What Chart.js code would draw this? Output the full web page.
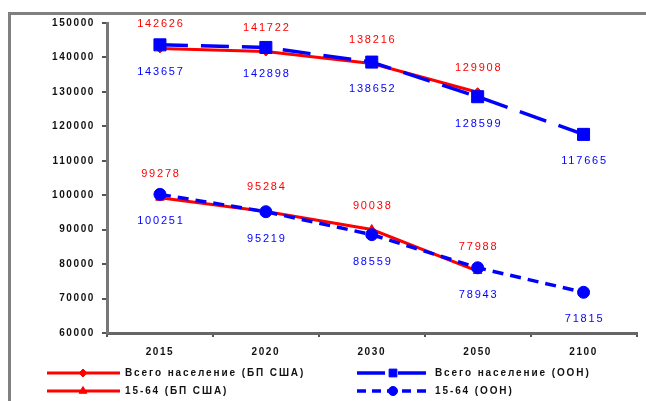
<!DOCTYPE html>
<html>
<head>
<meta charset="utf-8">
<script src="https://cdn.jsdelivr.net/npm/chart.js@4/dist/chart.umd.min.js"></script>
<style>
  html, body { margin: 0; padding: 0; background: #fff; overflow: hidden; }
  #wrap { width: 646px; height: 401px; position: relative; }
</style>
</head>
<body>
<div id="wrap"><canvas id="chart" width="646" height="401"></canvas></div>
<script>
// Population forecasts, thousands of people
const years = ['2015', '2020', '2030', '2050', '2100'];
const totalCensus = [142626, 141722, 138216, 129908, null];   // Всего население (БП США)
const totalUN     = [143657, 142898, 138652, 128599, 117665]; // Всего население (ООН)
const workCensus  = [99278, 95284, 90038, 77988, null];       // 15-64 (БП США)
const workUN      = [100251, 95219, 88559, 78943, 71815];     // 15-64 (ООН)
const yMin = 60000, yMax = 150000, yStep = 10000;

const RED = '#ff0000';
const BLUE = '#0000ff';
const FONT = '"Liberation Sans", Arial, sans-serif';

const datasets = [
  { label: 'Всего население (ООН)', data: totalUN, borderColor: BLUE, backgroundColor: BLUE,
    borderWidth: 3.5, borderDash: [28, 13], pointStyle: 'rect', pointRadius: 8.5,
    legendRadius: 5.5, legendDash: [28, 13], labelSide: 1, order: 0 },
  { label: '15-64 (ООН)', data: workUN, borderColor: BLUE, backgroundColor: BLUE,
    borderWidth: 3.5, borderDash: [11, 7], pointStyle: 'circle', pointRadius: 6,
    legendRadius: 4.5, legendDash: [9, 6], labelSide: 1, order: 0 },
  { label: 'Всего население (БП США)', data: totalCensus, borderColor: RED, backgroundColor: RED,
    borderWidth: 3, borderDash: [], pointStyle: 'rectRot', pointRadius: 4.5,
    legendRadius: 4, legendDash: [], labelSide: -1, order: 1 },
  { label: '15-64 (БП США)', data: workCensus, borderColor: RED, backgroundColor: RED,
    borderWidth: 3, borderDash: [], pointStyle: 'triangle', pointRadius: 5,
    legendRadius: 4.5, legendDash: [], labelSide: -1, order: 1 }
];
datasets.forEach(d => { d.tension = 0; d.fill = false; d.pointBorderWidth = 1; d.spanGaps = false; });

// Grey frame around the whole figure
const framePlugin = {
  id: 'frame',
  beforeDraw(chart) {
    const ctx = chart.ctx;
    ctx.save();
    ctx.fillStyle = '#fff';
    ctx.fillRect(0, 0, chart.width, chart.height);
    ctx.strokeStyle = '#808080';
    ctx.lineWidth = 3;
    ctx.strokeRect(9.5, 13.5, 800, 600);
    ctx.restore();
    ctx.letterSpacing = '1.6px';
  }
};

// Value labels: red above the point, blue below
const valueLabels = {
  id: 'valueLabels',
  afterDatasetsDraw(chart) {
    const ctx = chart.ctx;
    ctx.save();
    ctx.font = '11px ' + FONT;
    ctx.letterSpacing = '1.8px';
    ctx.textAlign = 'center';
    ctx.textBaseline = 'middle';
    chart.data.datasets.forEach((ds, i) => {
      const meta = chart.getDatasetMeta(i);
      meta.data.forEach((pt, j) => {
        const v = ds.data[j];
        if (v === null || v === undefined) return;
        ctx.fillStyle = ds.borderColor;
        const dy = ds.labelSide < 0 ? -24 : 27;
        ctx.fillText(String(v), pt.x + 1, pt.y + dy);
      });
    });
    ctx.restore();
  }
};

// Two-column legend under the axis: line sample with marker, then the name
const bottomLegend = {
  id: 'bottomLegend',
  afterDraw(chart) {
    const ctx = chart.ctx;
    const slots = { 2: [47, 373], 3: [47, 391], 0: [357, 373], 1: [357, 391] };
    chart.data.datasets.forEach((ds, i) => {
      const [x, y] = slots[i];
      ctx.save();
      ctx.strokeStyle = ds.borderColor;
      ctx.fillStyle = ds.borderColor;
      ctx.lineWidth = ds.borderWidth;
      ctx.setLineDash(ds.legendDash);
      ctx.beginPath();
      ctx.moveTo(x, y);
      ctx.lineTo(x + 73, y);
      ctx.stroke();
      ctx.setLineDash([]);
      ctx.lineWidth = 1;
      Chart.helpers.drawPoint(ctx, { pointStyle: ds.pointStyle, radius: ds.legendRadius, rotation: 0, borderWidth: 1 }, x + 36, y);
      ctx.font = 'bold 10px ' + FONT;
      ctx.letterSpacing = '1.9px';
      ctx.fillStyle = '#111';
      ctx.textAlign = 'left';
      ctx.textBaseline = 'middle';
      ctx.fillText(ds.label, x + 78, y + 0.5);
      ctx.restore();
    });
  }
};

new Chart(document.getElementById('chart'), {
  type: 'line',
  data: { labels: years, datasets },
  plugins: [framePlugin, valueLabels, bottomLegend],
  options: {
    responsive: false,
    animation: false,
    devicePixelRatio: 1,
    layout: { padding: { top: 23, left: 0, right: 0, bottom: 0 } },
    plugins: { legend: { display: false }, tooltip: { enabled: false } },
    scales: {
      x: {
        type: 'category',
        offset: true,
        grid: { offset: true, drawOnChartArea: false, drawTicks: true, tickLength: 4, color: '#555', lineWidth: 2 },
        border: { display: true, color: '#666', width: 3 },
        ticks: { color: '#111', padding: 9, font: { family: FONT, size: 10, weight: 'bold' }, maxRotation: 0 },
        afterFit(scale) { scale.height = 68; }
      },
      y: {
        min: yMin,
        max: yMax,
        grid: { drawOnChartArea: false, drawTicks: true, tickLength: 5, color: '#555', lineWidth: 2 },
        border: { display: true, color: '#777', width: 3 },
        ticks: {
          stepSize: yStep,
          color: '#111',
          padding: 7,
          font: { family: FONT, size: 10, weight: 'bold' },
          callback: v => String(v)
        },
        afterFit(scale) { scale.width = 107; }
      }
    }
  }
});
</script>
</body>
</html>
